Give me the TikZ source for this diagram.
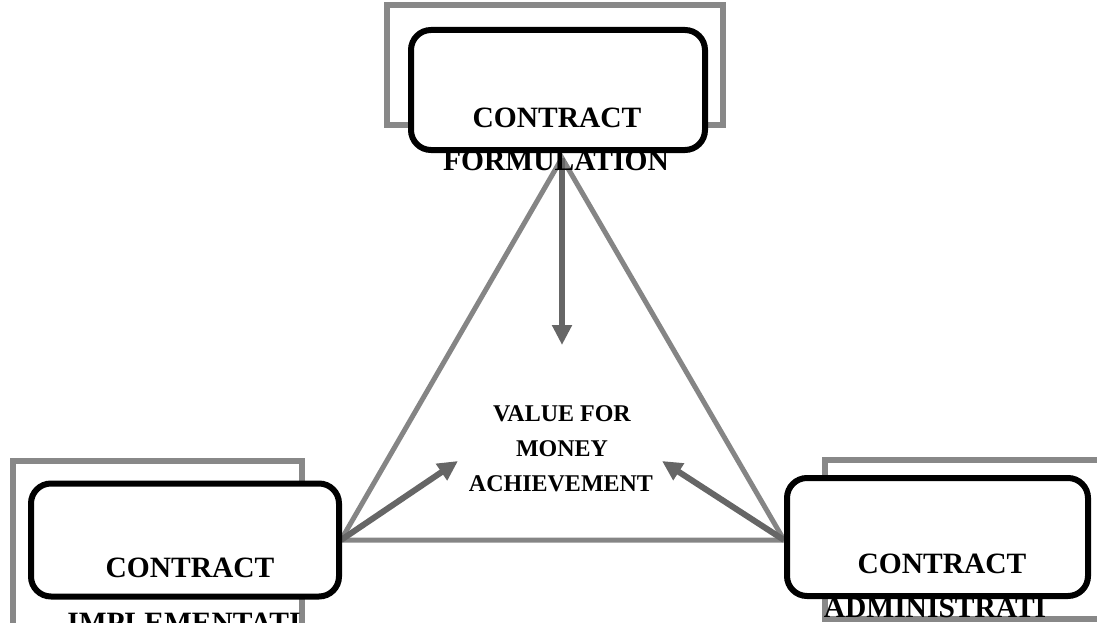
\documentclass[tikz,border=0pt]{standalone}
\usepackage{fontspec}
\setmainfont{Liberation Serif}
\usetikzlibrary{arrows.meta}
\definecolor{frameGray}{HTML}{888888}
\definecolor{lineGray}{HTML}{858585}
\definecolor{arrGray}{HTML}{666666}
\tikzset{
  grayframe/.style={draw=frameGray, line width=6pt, fill=white},
  blackbox/.style={draw=black, line width=6pt, fill=white, rounded corners=20pt},
  side/.style={draw=lineGray, line width=5pt, line cap=round},
  flow/.style={draw=arrGray, line width=6pt, -{Triangle[length=20pt,width=19pt]}},
  bigtxt/.style={font=\bfseries\fontsize{29.5}{35}\selectfont, inner sep=0pt, anchor=base},
  midtxt/.style={font=\bfseries\fontsize{24}{35}\selectfont, inner sep=0pt, anchor=base},
}
\begin{document}
\begin{tikzpicture}[x=1pt,y=-1pt]
\useasboundingbox (0,0) rectangle (1097,623);
% vertices of the triangle
\coordinate (apex) at (562,158);
\coordinate (vl) at (341,540);
\coordinate (vr) at (784,540);
\coordinate (cTop) at (562,345);
\coordinate (cLeft) at (458,461);
\coordinate (cRight) at (662,461);
% triangle
\draw[side] (apex) -- (vl) -- (vr) -- cycle;
% arrows
\draw[flow] (apex) -- (cTop);
\draw[flow] (vl) -- (cLeft);
\draw[flow] (vr) -- (cRight);
% top frames
\draw[grayframe] (387,5) rectangle (723,125);
\node[blackbox, minimum width=294pt, minimum height=120pt, inner sep=0pt] (topBox) at (558,90) {};
% bottom-left frames
\draw[grayframe] (13,461) rectangle (302,640);
\node[blackbox, minimum width=308pt, minimum height=113pt, inner sep=0pt] (leftBox) at (185,540) {};
% bottom-right frames
\draw[grayframe] (825,460) rectangle (1110,619);
\node[blackbox, minimum width=301pt, minimum height=118pt, inner sep=0pt] (rightBox) at (937.5,537) {};
% texts
\node[bigtxt] (t1a) at (557,128) {CONTRACT};
\node[bigtxt] (t1b) at (556,170) {FORMULATION};
\node[bigtxt] (t2a) at (190,577) {CONTRACT};
\node[bigtxt] (t2b) at (184,632) {IMPLEMENTATI};
\node[bigtxt] (t3a) at (942,573) {CONTRACT};
\node[bigtxt] (t3b) at (935,617) {ADMINISTRATI};
\node[midtxt] (m1) at (562,421) {VALUE FOR};
\node[midtxt] (m2) at (562,456) {MONEY};
\node[midtxt] (m3) at (561,491) {ACHIEVEMENT};
\end{tikzpicture}
\end{document}
